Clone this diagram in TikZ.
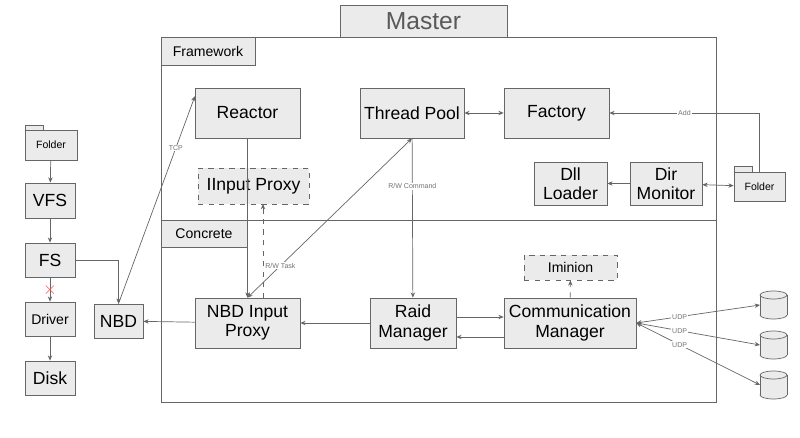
\documentclass[tikz,border=0pt]{standalone}
\usepackage{fontspec}
\setmainfont{Liberation Sans}
\usetikzlibrary{arrows.meta}

\tikzset{
  box/.style={draw=black!60, fill=black!8, align=center, inner sep=1pt, font=\fontsize{10}{11}\selectfont},
  dbox/.style={box, dashed},
  lbl/.style={font=\fontsize{4}{4}\selectfont, text=black!55, fill=white, inner sep=0.5pt},
  conn/.style={draw=black!60, -{Stealth[length=3pt,width=2.5pt]}},
  both/.style={draw=black!60, {Stealth[length=3pt,width=2.5pt]}-{Stealth[length=3pt,width=2.5pt]}}
}

\begin{document}
\begin{tikzpicture}[x=0.02cm, y=-0.02cm]
                \useasboundingbox (0,0) rectangle (800,438);

                % frame
                \node [box, minimum width=3.34cm, minimum height=0.64cm, font=\fontsize{14}{15}\selectfont, text=black!65] (master) at (423.5,21) {Master};
                \draw [black!60] (161,37) rectangle (716,402);
                \draw [black!60] (161,220) -- (716,220);
                \node [box, minimum width=1.88cm, minimum height=0.56cm, font=\fontsize{8}{9}\selectfont] (fw) at (208,51) {Framework};
                \node [box, minimum width=1.72cm, minimum height=0.54cm, font=\fontsize{8}{9}\selectfont] (cc) at (204,233.5) {Concrete};

                % framework part
                \node [box, minimum width=2.1cm, minimum height=1cm] (reactor) at (247.5,113) {Reactor};
                \node [box, minimum width=2.08cm, minimum height=1cm] (pool) at (412,113) {Thread Pool};
                \node [box, minimum width=2.1cm, minimum height=1cm] (factory) at (556.5,113) {Factory};
                \node [dbox, minimum width=2.22cm, minimum height=0.72cm] (iproxy) at (253.5,186) {IInput Proxy};
                \node [box, minimum width=1.46cm, minimum height=0.86cm] (loader) at (570.5,183.5) {Dll\\Loader};
                \node [box, minimum width=1.44cm, minimum height=0.86cm] (monitor) at (666,183.5) {Dir\\Monitor};
                \draw [black!60, fill=black!8] (734,172) rectangle (752,166);
                \node [box, minimum width=1.02cm, minimum height=0.58cm, font=\fontsize{6}{7}\selectfont] (rfolder) at (759.5,186.5) {Folder};

                % concrete part
                \node [dbox, minimum width=1.86cm, minimum height=0.5cm, font=\fontsize{8}{9}\selectfont] (iminion) at (570.5,267.5) {Iminion};
                \node [box, minimum width=2.1cm, minimum height=1cm] (nip) at (247.5,323) {NBD Input\\Proxy};
                \node [box, minimum width=1.72cm, minimum height=1cm] (raid) at (413,323) {Raid\\Manager};
                \node [box, minimum width=2.64cm, minimum height=1cm] (comm) at (570,323) {Communication\\Manager};

                % disks
                \foreach \y [count=\i] in {291,331,371} {
                  \fill [black!8] (760,\y+4) rectangle (787,\y+24);
                  \draw [black!60, fill=black!8] (773.5,\y+24) ellipse [x radius=13.5, y radius=4];
                  \fill [black!8] (760.4,\y+4) rectangle (786.6,\y+24);
                  \draw [black!60] (760,\y+4) -- (760,\y+24) (787,\y+4) -- (787,\y+24);
                  \draw [black!60, fill=black!8] (773.5,\y+4) ellipse [x radius=13.5, y radius=4];
                  \coordinate (d\i) at (760,\y+14);
                }

                % left stack
                \draw [black!60, fill=black!8] (25,130) rectangle (43,125);
                \node [box, minimum width=1.04cm, minimum height=0.6cm, font=\fontsize{6}{7}\selectfont] (lfolder) at (51,145) {Folder};
                \node [box, minimum width=1cm, minimum height=0.7cm] (vfs) at (50,200.5) {VFS};
                \node [box, minimum width=1cm, minimum height=0.68cm] (fs) at (50,260) {FS};
                \node [box, minimum width=1cm, minimum height=0.68cm, font=\fontsize{8}{9}\selectfont] (driver) at (50,319) {Driver};
                \node [box, minimum width=1cm, minimum height=0.68cm] (disk) at (50,378) {Disk};
                \node [box, minimum width=0.98cm, minimum height=0.68cm] (nbd) at (118.5,321) {NBD};

                \coordinate (tcpend) at (195,96);
                \coordinate (ipup) at (263,298);
                \coordinate (ipdown) at (263,204);

                \draw [conn] (lfolder) -- (vfs);
                \draw [conn] (vfs) -- (fs);
                \draw [conn] (fs) -- (driver);
                \node [red!70, font=\fontsize{10}{10}\selectfont] (cross) at (50,290) {$\times$};
                \draw [conn] (driver) -- (disk);
                \draw [conn] (fs.east) -| (nbd.north);
                \draw [conn] (nbd.north) -- node [lbl, pos=0.75] {TCP} (tcpend);
                \draw [conn] (reactor) -- (nip);
                \draw [conn, dashed] (ipup) -- (ipdown);
                \draw [both] (nip.north) -- node [lbl, pos=0.2] {R/W Task} (pool.south);
                \draw [conn] (pool) -- node [lbl, pos=0.3] {R/W Command} (raid);
                \draw [both] (pool) -- (factory);
                \draw [conn] (rfolder.north) |- node [lbl, pos=0.75] {Add} (factory.east);
                \draw [conn] (monitor) -- (loader);
                \draw [both] (monitor) -- (rfolder);
                \draw [conn] ([yshift=0.12cm]raid.east) -- ([yshift=0.12cm]comm.west);
                \draw [conn] ([yshift=-0.28cm]comm.west) -- ([yshift=-0.28cm]raid.east);
                \draw [conn] (raid) -- (nip);
                \draw [conn] (nip) -- (nbd);
                \draw [conn, dashed] (comm) -- (iminion);
                \foreach \d in {d1,d2,d3}
                  \draw [both] (comm.east) -- node [lbl, pos=0.35] {UDP} (\d);
\end{tikzpicture}
\end{document}
